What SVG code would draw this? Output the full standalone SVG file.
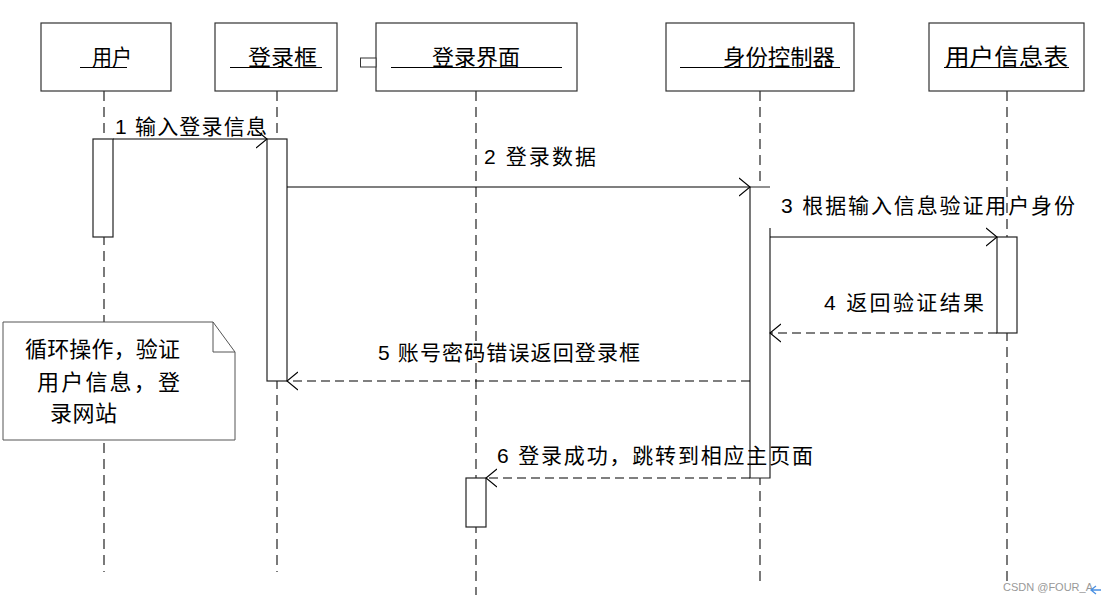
<svg xmlns="http://www.w3.org/2000/svg" width="1103" height="601" viewBox="0 0 1103 601">
  <style>
    .head { fill: #fff; stroke: #333; stroke-width: 1.2; }
    .uline { stroke: #000; stroke-width: 1.2; }
    .life { stroke: #222; stroke-width: 1.2; stroke-dasharray: 10 6; fill: none; }
    .act { fill: #fff; stroke: #222; stroke-width: 1.2; }
    .msg { stroke: #000; stroke-width: 1.1; fill: none; marker-end: url(#open); }
    .ret { stroke-dasharray: 9 5; }
    text { font-family: "Liberation Sans", "Noto Sans CJK SC", sans-serif; fill: #000; }
    .t { font-size: 22px; }
    .lbl { font-size: 21px; }
  </style>
  <defs>
    <marker id="open" viewBox="0 0 12 20" refX="11" refY="10" markerWidth="12" markerHeight="20" markerUnits="userSpaceOnUse" orient="auto">
      <path d="M0,1 L11,10 L0,19" fill="none" stroke="#000" stroke-width="1.1" stroke-dasharray="none"/>
    </marker>
  </defs>
  <rect width="1103" height="601" fill="#fff"/>

  <!-- lifelines -->
  <g id="lifelines">
    <line class="life" x1="104" y1="91" x2="104" y2="572"/>
    <line class="life" x1="277" y1="91" x2="277" y2="572"/>
    <line class="life" x1="476" y1="91" x2="476" y2="595"/>
    <line class="life" x1="760" y1="91" x2="760" y2="586"/>
    <line class="life" x1="1007" y1="91" x2="1007" y2="582"/>
  </g>

  <!-- participants -->
  <g id="user">
    <rect class="head" x="41" y="23" width="130" height="68"/>
    <text class="t" x="92" y="65" textLength="40" lengthAdjust="spacingAndGlyphs">用户</text>
    <line class="uline" x1="80" y1="67.5" x2="127" y2="67.5"/>
  </g>
  <g id="loginbox">
    <rect class="head" x="215" y="23" width="122" height="68"/>
    <text class="t" x="248" y="65" textLength="69" lengthAdjust="spacingAndGlyphs">登录框</text>
    <line class="uline" x1="230" y1="67.5" x2="322" y2="67.5"/>
  </g>
  <g id="loginpage">
    <rect class="head" x="376" y="23" width="201" height="68"/>
    <rect x="360.5" y="58" width="15.5" height="9" fill="#fff" stroke="#333" stroke-width="1"/>
    <text class="t" x="432" y="65" textLength="88" lengthAdjust="spacingAndGlyphs">登录界面</text>
    <line class="uline" x1="391" y1="67.5" x2="562" y2="67.5"/>
  </g>
  <g id="controller">
    <rect class="head" x="666" y="23" width="188" height="68"/>
    <text class="t" x="723" y="65" textLength="112" lengthAdjust="spacingAndGlyphs">身份控制器</text>
    <line class="uline" x1="680" y1="67.5" x2="840" y2="67.5"/>
  </g>
  <g id="usertable">
    <rect class="head" x="929" y="23" width="155" height="68"/>
    <text class="t" x="945" y="65" font-size="23" textLength="123" lengthAdjust="spacingAndGlyphs" style="font-size:23px">用户信息表</text>
    <line class="uline" x1="944" y1="67.5" x2="1069" y2="67.5"/>
  </g>

  <!-- activation bars -->
  <g id="activations">
    <rect class="act" x="93" y="139" width="20" height="98"/>
    <rect class="act" x="267" y="139" width="20" height="242"/>
    <rect class="act" x="466" y="478" width="20" height="49"/>
    <rect x="750" y="187" width="20" height="291" fill="#fff"/>
    <path class="act" d="M770,228 V478 H750 V187 H770" fill="none"/>
    <rect class="act" x="997" y="237" width="20" height="96"/>
  </g>

  <!-- note -->
  <g id="note">
    <path d="M3,322 H213 L235,352 V440 H3 Z" fill="#fff" stroke="#555" stroke-width="1"/>
    <path d="M213,322 V352 H235" fill="none" stroke="#555" stroke-width="1"/>
    <text class="t" x="25" y="357" textLength="155">循环操作，验证</text>
    <text class="t" x="37" y="390" textLength="143">用户信息，登</text>
    <text class="t" x="50" y="421" textLength="67">录网站</text>
  </g>

  <!-- messages -->
  <g id="connectors">
    <line class="msg" x1="113" y1="139" x2="267" y2="139"/>
    <line class="msg" x1="287" y1="187" x2="750" y2="187"/>
    <line class="msg" x1="770" y1="237" x2="997" y2="237"/>
    <line class="msg ret" x1="997" y1="333" x2="770" y2="333"/>
    <line class="msg ret" x1="750" y1="381" x2="287" y2="381"/>
    <line class="msg ret" x1="750" y1="478" x2="486" y2="478"/>
  </g>

  <!-- message labels -->
  <g id="labels">
    <text class="lbl" x="115" y="134" textLength="152">1 输入登录信息</text>
    <text class="lbl" x="484" y="164" textLength="112">2 登录数据</text>
    <text class="lbl" x="781" y="213" textLength="294">3 根据输入信息验证用户身份</text>
    <text class="lbl" x="824" y="310" textLength="160">4 返回验证结果</text>
    <text class="lbl" x="378" y="360" textLength="262">5 账号密码错误返回登录框</text>
    <text class="lbl" x="497" y="463" textLength="316">6 登录成功，跳转到相应主页面</text>
  </g>

  <!-- footer -->
  <g id="footer">
    <text x="1003" y="591" font-size="11" style="fill:#999">CSDN @FOUR_A</text>
    <path d="M1101,590 H1092 M1096,586 L1091,590 L1096,594" fill="none" stroke="#4a90e2" stroke-width="1.3"/>
  </g>
</svg>
